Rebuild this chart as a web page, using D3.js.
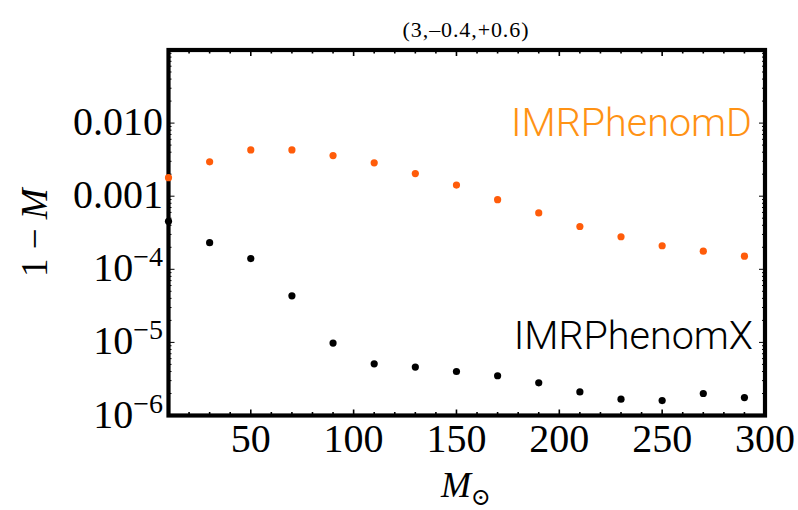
<!DOCTYPE html>
<meta charset="utf-8">
<style>
body { margin: 0; background: #fff; }
text { font-family: "Liberation Serif", "DejaVu Serif", serif; }
.tag { font-family: Roboto, "Liberation Sans", sans-serif; font-weight: 300; }
</style>
<svg width="798" height="510"></svg>
<script src="https://d3js.org/d3.v7.min.js"></script>
<script>

var masses = [10, 30, 50, 70, 90, 110, 130, 150, 170, 190, 210, 230, 250, 270, 290]
var phenomD = [1.79e-3, 2.95e-3, 4.3e-3, 4.3e-3, 3.6e-3, 2.86e-3, 2.04e-3, 1.42e-3,
               8.96e-4, 5.9e-4, 3.85e-4, 2.79e-4, 2.1e-4, 1.77e-4, 1.51e-4]
var phenomX = [4.54e-4, 2.31e-4, 1.40e-4, 4.33e-5, 9.8e-6, 5.1e-6, 4.6e-6, 4.0e-6,
               3.5e-6, 2.8e-6, 2.1e-6, 1.67e-6, 1.6e-6, 2.0e-6, 1.76e-6]
var xTicks = [50, 100, 150, 200, 250, 300]
var yTicks = [1e-2, 1e-3, 1e-4, 1e-5, 1e-6]
var yTickLabels = ["0.010", "0.001", "-4", "-5", "-6"]

var svg = d3.select("svg")
var pLeft = 168.5, pRight = 765, pTop = 50, pBottom = 415.5

var x = d3.scaleLinear().domain([10, 300]).range([pLeft, pRight])
var y = d3.scaleLog().domain([1e-6, 0.1]).range([pBottom, pTop])

// title
svg.append("text")
   .attr("x", 466).attr("y", 36.5)
   .attr("text-anchor", "middle")
   .style("font-size", "22px")
   .style("letter-spacing", "0.9px")
   .text("(3,\u20130.4,+0.6)")

// ticks, all four sides, pointing in
var g = svg.append("g").attr("stroke", "#000")

var xMinor = d3.range(10, 301, 10)
xMinor.forEach(function(v) {
  var len = (v % 50 === 0) ? 6 : 3.5
  g.append("line").attr("x1", x(v)).attr("x2", x(v))
   .attr("y1", pBottom).attr("y2", pBottom - len).attr("stroke-width", 1.6)
  g.append("line").attr("x1", x(v)).attr("x2", x(v))
   .attr("y1", pTop).attr("y2", pTop + len).attr("stroke-width", 1.6)
})

var yMinor = []
for (var e = -6; e <= -2; e++) {
  for (var m = 1; m <= 9; m++) yMinor.push(m * Math.pow(10, e))
}
yMinor.push(0.1)
yMinor.forEach(function(v) {
  var major = Math.abs(Math.log10(v) - Math.round(Math.log10(v))) < 1e-9
  var len = major ? 6 : 3
  g.append("line").attr("x1", pLeft).attr("x2", pLeft + len)
   .attr("y1", y(v)).attr("y2", y(v)).attr("stroke-width", 1)
  g.append("line").attr("x1", pRight).attr("x2", pRight - len)
   .attr("y1", y(v)).attr("y2", y(v)).attr("stroke-width", 1)
})

// frame
svg.append("rect")
   .attr("x", pLeft).attr("y", pTop)
   .attr("width", pRight - pLeft).attr("height", pBottom - pTop)
   .attr("fill", "none").attr("stroke", "#000").attr("stroke-width", 4.2)

// x tick labels
svg.selectAll(".xl").data(xTicks).enter().append("text")
   .attr("x", function(d) { return x(d) })
   .attr("y", 452)
   .attr("text-anchor", "middle")
   .style("font-size", "40px")
   .text(function(d) { return d })

// y tick labels
yTicks.forEach(function(v, i) {
  var t = svg.append("text")
     .attr("x", 163).attr("y", y(v) + 12)
     .attr("text-anchor", "end")
     .style("font-size", "40px")
  if (i < 2) {
    t.text(yTickLabels[i])
  } else {
    t.append("tspan").text("10")
    t.append("tspan").attr("dy", -15).style("font-size", "28px")
     .text(yTickLabels[i].replace("-", "\u2212"))
  }
})

// axis titles
var yl = svg.append("text")
   .attr("transform", "translate(47," + ((pTop + pBottom) / 2) + ") rotate(-90)")
   .attr("text-anchor", "middle")
   .style("font-size", "37px")
yl.append("tspan").text("1 \u2212 ")
yl.append("tspan").style("font-style", "italic").text("M")

var xl = svg.append("text")
   .attr("x", 466).attr("y", 497)
   .attr("text-anchor", "middle")
   .style("font-size", "36px")
xl.append("tspan").style("font-style", "italic").text("M")
xl.append("tspan").attr("dy", 8).style("font-size", "24px").text("\u2299")

// points
var plot = svg.append("g")
plot.selectAll(".d").data(masses).enter().append("circle")
    .attr("cx", function(d) { return x(d) })
    .attr("cy", function(d, i) { return y(phenomD[i]) })
    .attr("r", 3.6)
    .attr("fill", "#ff5c0a")
plot.selectAll(".x").data(masses).enter().append("circle")
    .attr("cx", function(d) { return x(d) })
    .attr("cy", function(d, i) { return y(phenomX[i]) })
    .attr("r", 3.6)
    .attr("fill", "#000")

// series labels
svg.append("text").attr("class", "tag")
   .attr("x", 752).attr("y", 136)
   .attr("text-anchor", "end")
   .style("font-size", "39.5px")
   .attr("fill", "#ff9214")
   .text("IMRPhenomD")
svg.append("text").attr("class", "tag")
   .attr("x", 753).attr("y", 349)
   .attr("text-anchor", "end")
   .style("font-size", "39.5px")
   .attr("fill", "#000")
   .text("IMRPhenomX")

</script>
</html>
